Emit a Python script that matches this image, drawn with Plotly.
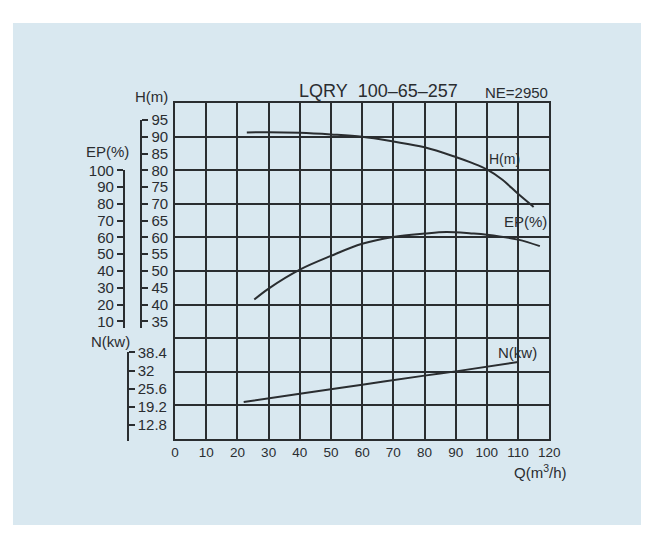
import plotly.graph_objects as go

# ---------------- data ----------------
q_head = [23, 30, 40, 50, 60, 70, 80, 90, 95, 100, 105, 110, 115]
head_m = [91.3, 91.4, 91.2, 90.7, 90.0, 88.6, 86.9, 84.0, 82.3, 80.3, 77.2, 73.0, 69.1]

q_eff = [25.4, 30, 40, 50, 60, 70, 80, 87, 95, 100, 110, 117]
eff_pct = [23.0, 29.5, 40.8, 49.0, 56.2, 60.3, 62.3, 63.2, 62.4, 61.6, 58.7, 54.8]

q_pow = [22, 40, 60, 80, 90, 110]
pow_kw = [20.9, 23.8, 27.0, 30.2, 31.7, 35.0]

q_ticks = [0, 10, 20, 30, 40, 50, 60, 70, 80, 90, 100, 110, 120]
h_ticks = [95, 90, 85, 80, 75, 70, 65, 60, 55, 50, 45, 40, 35]
ep_ticks = [100, 90, 80, 70, 60, 50, 40, 30, 20, 10]
n_ticks = [38.4, 32, 25.6, 19.2, 12.8]

title_text = "LQRY\u00a0\u00a0100\u201365\u2013257"
speed_text = "NE=2950"

# ---------------- layout geometry (screen pixels) ----------------
SW, SH = 661, 533          # browser window
OFF = 8                    # default page margin around the figure
FW, FH = SW - 2 * OFF, SH - 2 * OFF
PL, PR, PT, PB = 175, 558, 96, 438      # main plot box (screen px)
H_MAX = 100


def fx(px):
    return (px - OFF) / FW


def fy(py):
    return (FH - (py - OFF)) / FH


def py_of_h(h):
    return PB - h * (PB - PT) / H_MAX


INK = "#2a2d30"
BLUE = "#d9e8f0"
FONT = "Liberation Sans, Arial, sans-serif"

# EP axis: EP -> H  (EP 100 at H 80, EP 10 at H 35)
EP_LO, EP_HI = 6, 100
ep_dom = [fy(py_of_h(30 + EP_LO / 2)), fy(py_of_h(30 + EP_HI / 2))]
# H axis (left scale)
HA_LO, HA_HI = 33, 95
h_dom = [fy(py_of_h(HA_LO)), fy(py_of_h(HA_HI))]
# N axis
N_TOP_PX, N_BOT_TICK_PX, N_LINE_BOT = 350, 424, 440
px_per_kw = (N_BOT_TICK_PX - N_TOP_PX) / (38.4 - 12.8)
N_LO = 12.8 - (N_LINE_BOT - N_BOT_TICK_PX) / px_per_kw
n_dom = [fy(N_LINE_BOT), fy(N_TOP_PX)]

fig = go.Figure()

line_style = dict(color=INK, width=2, shape="spline", smoothing=1.0)
fig.add_trace(go.Scatter(x=q_head, y=head_m, mode="lines", line=line_style,
                         xaxis="x", yaxis="y", hoverinfo="skip"))
fig.add_trace(go.Scatter(x=q_eff, y=eff_pct, mode="lines", line=line_style,
                         xaxis="x", yaxis="y3", hoverinfo="skip"))
fig.add_trace(go.Scatter(x=q_pow, y=pow_kw, mode="lines", line=line_style,
                         xaxis="x", yaxis="y4", hoverinfo="skip"))
fig.add_trace(go.Scatter(x=[None], y=[None], mode="lines",
                         xaxis="x", yaxis="y2", hoverinfo="skip"))

tick_font = dict(family=FONT, size=15, color=INK)

fig.update_layout(
    width=FW, height=FH, autosize=False,
    margin=dict(l=0, r=0, t=0, b=0, pad=0),
    paper_bgcolor="white",
    plot_bgcolor="rgba(0,0,0,0)",
    showlegend=False,
    hovermode=False,
    xaxis=dict(
        domain=[fx(PL), fx(PR)], range=[0, 120], anchor="y",
        tickmode="array", tickvals=q_ticks, ticktext=[str(v) for v in q_ticks],
        ticks="", tickfont=dict(family=FONT, size=13.5, color=INK),
        showgrid=True, gridcolor=INK, gridwidth=2,
        showline=True, linecolor=INK, linewidth=2, mirror=True,
        zeroline=False, fixedrange=True,
    ),
    yaxis=dict(
        domain=[fy(PB), fy(PT)], range=[0, H_MAX], anchor="x",
        tickmode="linear", tick0=0, dtick=10, showticklabels=False, ticks="",
        showgrid=True, gridcolor=INK, gridwidth=2,
        showline=True, linecolor=INK, linewidth=2, mirror=True,
        zeroline=False, fixedrange=True,
    ),
    yaxis2=dict(
        domain=h_dom, range=[HA_LO, HA_HI], anchor="free", position=fx(140.5),
        side="right", tickmode="array", tickvals=h_ticks,
        ticktext=[str(v) for v in h_ticks],
        ticks="outside", ticklen=6, tickwidth=2, tickcolor=INK,
        tickfont=tick_font, showgrid=False, zeroline=False,
        showline=True, linecolor=INK, linewidth=2, fixedrange=True,
    ),
    yaxis3=dict(
        domain=ep_dom, range=[EP_LO, EP_HI], anchor="free", position=fx(122.5),
        side="left", tickmode="array", tickvals=ep_ticks,
        ticktext=[str(v) for v in ep_ticks],
        ticks="outside", ticklen=6, tickwidth=2, tickcolor=INK,
        tickfont=tick_font, showgrid=False, zeroline=False,
        showline=True, linecolor=INK, linewidth=2, fixedrange=True,
    ),
    yaxis4=dict(
        domain=n_dom, range=[N_LO, 38.4], anchor="free", position=fx(126.5),
        side="right", tickmode="array", tickvals=n_ticks,
        ticktext=[str(v) for v in n_ticks],
        ticks="outside", ticklen=6, tickwidth=2, tickcolor=INK,
        tickfont=tick_font, showgrid=False, zeroline=False,
        showline=True, linecolor=INK, linewidth=2, fixedrange=True,
    ),
    shapes=[dict(type="rect", xref="paper", yref="paper", layer="below",
                 x0=fx(9), x1=fx(652), y0=fy(527), y1=fy(14),
                 fillcolor=BLUE, line=dict(width=0))],
)


def label(text, px, py, size=15, xanchor="center"):
    fig.add_annotation(text=text, xref="paper", yref="paper",
                       x=fx(px), y=fy(py), xanchor=xanchor, yanchor="middle",
                       showarrow=False, font=dict(family=FONT, size=size, color=INK))


label(title_text, 383, 83, size=18)
label(speed_text, 559, 85, size=15, xanchor="right")
label("H(m)", 151, 89)
label("EP(%)", 105.5, 145)
label("N(kw)", 108.5, 339)
label("Q(m<sup>3</sup>/h)", 549, 471)
label("H(m)", 512, 153, size=14)
label("EP(%)", 533.5, 217)
label("N(kw)", 525.5, 350)

fig.write_html("out.html", config={"displayModeBar": False, "staticPlot": True})
